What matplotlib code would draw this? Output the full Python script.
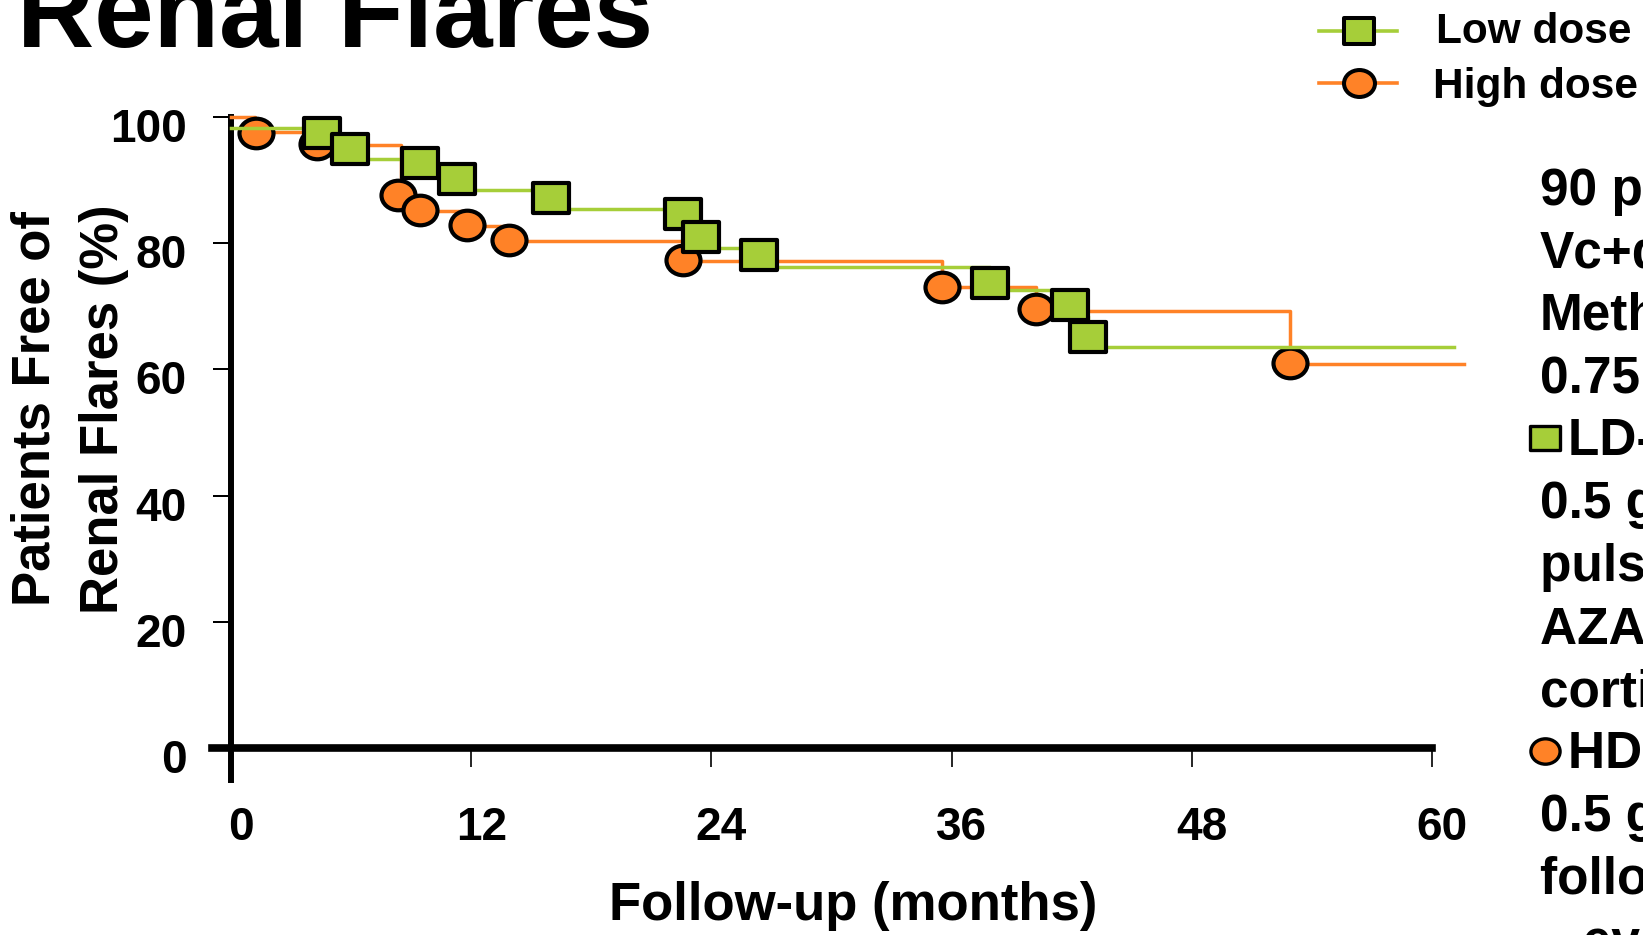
import numpy as np
import matplotlib
matplotlib.use("Agg")
import matplotlib.pyplot as plt
from matplotlib.path import Path
from matplotlib.lines import Line2D
from matplotlib.transforms import ScaledTranslation

plt.rcParams['font.family'] = ['Liberation Sans', 'DejaVu Sans']
plt.rcParams['font.weight'] = 'bold'

# ---------------- data ----------------
title = "Renal Flares"
x_ticks = [0, 12, 24, 36, 48, 60]
y_ticks = [0, 20, 40, 60, 80, 100]
x_label = "Follow-up (months)"
y_label = "Patients Free of\nRenal Flares (%)"

# Low dose (green squares): Kaplan-Meier step curve
ld_step_t = [0, 4.5, 5.9, 9.4, 11.3, 16.0, 22.6, 23.5, 26.4, 37.9, 41.9, 42.8, 61.1]
ld_step_s = [98.2, 95.8, 93.3, 91.0, 88.4, 85.4, 83.0, 79.3, 76.3, 72.6, 68.5, 63.5, 63.5]
ld_mark_t = [4.53, 5.94, 9.44, 11.3, 16.0, 22.6, 23.5, 26.4, 37.9, 41.9, 42.8]
ld_mark_s = [97.5, 95.0, 92.7, 90.2, 87.1, 84.7, 81.0, 78.1, 73.7, 70.2, 65.2]

# High dose (orange circles)
hd_step_t = [0, 1.2, 4.3, 8.5, 9.4, 11.8, 13.9, 22.6, 35.5, 40.2, 52.9, 61.6]
hd_step_s = [100, 97.6, 95.6, 87.5, 85.1, 82.8, 80.3, 77.2, 73.0, 69.3, 60.9, 60.9]
hd_mark_t = [1.23, 4.3, 8.36, 9.44, 11.8, 13.9, 22.6, 35.5, 40.2, 52.9]
hd_mark_s = [97.4, 95.8, 87.6, 85.3, 82.9, 80.5, 77.3, 73.1, 69.5, 61.0]

series_names = ["Low dose", "High dose"]
side_lines = ["90 patients, LN III, IV,", "Vc+d", "Methylprednisolone",
              "0.75 g \u00d7 3", "LD-IV CY:", "0.5 g \u00d7 6 fortnightly",
              "pulses, then", "AZA + oral", "corticosteroids", "HD-IV CY:",
              "0.5 g/m\u00b2 \u00d7 6 monthly", "followed by 2 pulses",
              "\u2013 every 3 months"]

GREEN = '#A6CE39'
ORANGE = '#FF8227'

W, H = 1643, 935
def fx(px):
    return px / W
def fy(py):
    return 1 - py / H

# custom (horizontally stretched) markers as in the slide
rect_marker = Path([(-0.6, -0.5), (0.6, -0.5), (0.6, 0.5), (-0.6, 0.5), (-0.6, -0.5)],
                   [Path.MOVETO, Path.LINETO, Path.LINETO, Path.LINETO, Path.CLOSEPOLY])
_c = Path.unit_circle()
ell_marker = Path(_c.vertices * np.array([1.15, 1.0]), _c.codes)

fig = plt.figure(figsize=(W / 100, H / 100), dpi=100)
ax = fig.add_axes([fx(212), fy(779.5), 1220 / W, 662.5 / H])
ax.set_xlim(-0.95, 60)
ax.set_ylim(-5, 100)

for s in ['top', 'right']:
    ax.spines[s].set_visible(False)
ax.spines['left'].set_position(('data', 0))
ax.spines['bottom'].set_position(('data', 0))
ax.spines['left'].set_linewidth(4.3)
ax.spines['bottom'].set_linewidth(5.5)

ax.set_xticks(x_ticks)
ax.set_xticklabels([str(v) for v in x_ticks])
ax.set_yticks(y_ticks)
ax.set_yticklabels([str(v) for v in y_ticks])
ax.tick_params(axis='x', direction='out', length=13.7, width=1.2, pad=28, labelsize=33)
ax.tick_params(axis='y', direction='out', length=13, width=1.44, pad=18.7, labelsize=33)
for lab in ax.get_xticklabels():
    lab.set_fontweight('bold')
    lab.set_transform(lab.get_transform() + ScaledTranslation(0.10, 0, fig.dpi_scale_trans))
for lab in ax.get_yticklabels():
    lab.set_fontweight('bold')
    lab.set_transform(lab.get_transform() + ScaledTranslation(0, -0.08, fig.dpi_scale_trans))

# curves: orange first, green on top
ax.step(hd_step_t, hd_step_s, where='post', color=ORANGE, lw=2.5, clip_on=False, zorder=3)
ax.plot(hd_mark_t, hd_mark_s, ls='none', marker=ell_marker, ms=24.5, mfc=ORANGE,
        mec='black', mew=3.0, clip_on=False, zorder=4)
ax.step(ld_step_t, ld_step_s, where='post', color=GREEN, lw=2.5, clip_on=False, zorder=5)
ax.plot(ld_mark_t, ld_mark_s, ls='none', marker=rect_marker, ms=25.9, mfc=GREEN,
        mec='black', mew=3.0, clip_on=False, zorder=6)

ax.set_xlabel(x_label, fontsize=38, fontweight='bold')
ax.xaxis.label.set_va('center')
ax.xaxis.set_label_coords(0.5254, -0.191)
ax.set_ylabel(y_label, fontsize=38, fontweight='bold', linespacing=1.47)
ax.yaxis.label.set_va('center')
ax.yaxis.label.set_ha('center')
ax.yaxis.set_label_coords(-0.1164, 0.5592)

# title (cut by the top edge, as in the slide)
fig.text(fx(17), fy(47), title, fontsize=77, fontweight='bold', va='baseline', ha='left')

# legend (manual, top right)
leg = [(series_names[0], GREEN, rect_marker, 31, 1436, 43),
       (series_names[1], ORANGE, ell_marker, 83, 1433, 98)]
for name, col, mk, ly, tx, tb in leg:
    fig.add_artist(Line2D([fx(1319), fx(1397)], [fy(ly), fy(ly)], transform=fig.transFigure,
                          color=col, lw=2.6))
    fig.add_artist(Line2D([fx(1359)], [fy(ly)], transform=fig.transFigure, ls='none',
                          marker=mk, ms=22.3, mfc=col, mec='black', mew=2.9))
    fig.text(fx(tx), fy(tb), name, fontsize=30.5, fontweight='bold', va='baseline', ha='left')

# side text (cut by the right edge)
for i, line in enumerate(side_lines):
    base = 204.5 + i * 62.7
    if line.startswith("LD") or line.startswith("HD"):
        col = GREEN if line.startswith("LD") else ORANGE
        mk = rect_marker if line.startswith("LD") else ell_marker
        fig.add_artist(Line2D([fx(1545)], [fy(base - 17.5)], transform=fig.transFigure,
                              ls='none', marker=mk, ms=21, mfc=col, mec='black', mew=2.4))
        fig.text(fx(1568.5), fy(base), line, fontsize=37, fontweight='bold', va='baseline', ha='left')
    else:
        fig.text(fx(1540), fy(base), line, fontsize=37, fontweight='bold', va='baseline', ha='left')

fig.savefig("out.png", dpi=100)
